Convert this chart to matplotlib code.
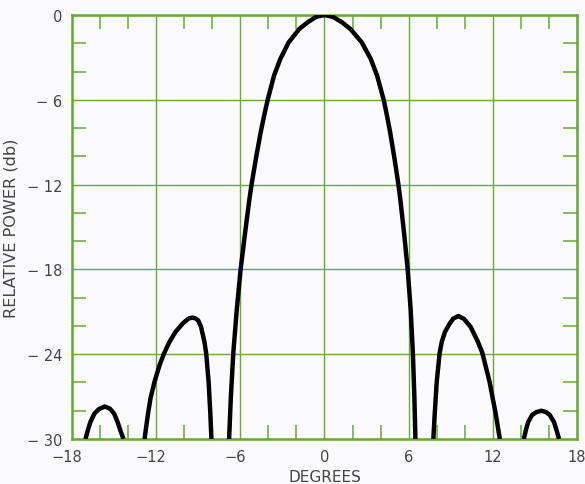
import matplotlib
matplotlib.use("Agg")
import matplotlib.pyplot as plt
import matplotlib.transforms as mtransforms
from matplotlib.ticker import MultipleLocator

# angle (degrees) and relative power (db), one list per lobe
main_deg = [-6.80, -6.68, -6.50, -6.25, -5.98, -5.66, -5.35, -5.20, -4.88, -4.55, -4.30,
            -4.05, -3.60, -3.15, -2.55, -1.80, -1.21, -0.60, 0.00, 0.60, 1.25, 1.85,
            2.65, 3.30, 3.75, 4.22, 4.45, 4.68, 4.98, 5.27, 5.40, 5.67, 5.93, 6.14,
            6.30, 6.41, 6.48]
main_db = [-30.0, -27.1, -23.9, -20.8, -18.0, -15.4, -13.0, -12.0, -10.1, -8.3, -7.1,
           -6.0, -4.29, -3.11, -1.93, -0.99, -0.52, -0.13, 0.0, -0.13, -0.52, -0.99,
           -1.93, -3.11, -4.29, -6.0, -7.1, -8.3, -10.1, -12.0, -13.0, -15.4, -18.0, -20.8,
           -23.9, -27.1, -30.0]

left1_deg = [-12.83, -12.58, -12.40, -12.12, -11.76, -11.42, -11.05, -10.62, -10.12, -9.70,
             -9.40, -9.20, -9.00, -8.80, -8.56, -8.44, -8.26, -8.14, -8.06]
left1_db = [-30.0, -28.19, -27.1, -25.96, -24.78, -23.9, -23.13, -22.42, -21.84, -21.48,
            -21.41, -21.47, -21.62, -22.07, -23.13, -23.9, -25.96, -28.19, -30.0]

right1_deg = [7.76, 7.86, 8.00, 8.21, 8.36, 8.59, 8.92, 9.18, 9.54, 9.94, 10.42, 10.94,
              11.25, 11.77, 12.20, 12.50]
right1_db = [-30.0, -28.19, -25.96, -23.9, -23.13, -22.42, -21.84, -21.48, -21.3, -21.5,
             -22.07, -23.13, -23.9, -25.96, -28.19, -30.0]

left2_deg = [-17.04, -16.85, -16.69, -16.40, -16.10, -15.67, -15.30, -15.00, -14.75, -14.55, -14.33]
left2_db = [-30.0, -29.3, -28.8, -28.2, -27.9, -27.7, -27.85, -28.2, -28.8, -29.4, -30.0]

right2_deg = [14.21, 14.35, 14.52, 14.80, 15.10, 15.46, 15.80, 16.06, 16.36, 16.55, 16.72]
right2_db = [-30.0, -29.4, -28.8, -28.3, -28.1, -28.0, -28.1, -28.3, -28.8, -29.4, -30.0]

xticks = [-18, -12, -6, 0, 6, 12, 18]
xlabels = ["\u221218", "\u221212", "\u22126", "0", "6", "12", "18"]
yticks = [0, -6, -12, -18, -24, -30]
ylabels = ["0", "\u2212 6", "\u2212 12", "\u2212 18", "\u2212 24", "\u2212 30"]

green = "#67aa36"
ink = "#444444"
bg = "#fbfafc"

fig = plt.figure(figsize=(5.85, 4.85), dpi=100, facecolor=bg)
ax = fig.add_axes([0.1231, 0.0928, 0.8632, 0.8742], facecolor=bg)

for d, p in [(main_deg, main_db), (left1_deg, left1_db), (right1_deg, right1_db),
             (left2_deg, left2_db), (right2_deg, right2_db)]:
    ax.plot(d, p, color="black", lw=3.2, solid_joinstyle="round", solid_capstyle="butt", zorder=3)

ax.set_xlim(-18, 18)
ax.set_ylim(-30, 0)
ax.set_xticks(xticks)
ax.set_xticklabels(xlabels, fontsize=10.5, color=ink)
ax.set_yticks(yticks)
ax.set_yticklabels(ylabels, fontsize=10.5, color=ink)
ax.xaxis.set_minor_locator(MultipleLocator(2))
ax.yaxis.set_minor_locator(MultipleLocator(2))
ax.tick_params(which="major", length=0, pad=7)
ax.tick_params(which="minor", direction="in", length=10, width=1.1, color=green,
               top=True, right=True, bottom=True, left=True)

# keep the digits centred on the tick, the minus sign hangs to the left
for lab in ax.get_xticklabels():
    if lab.get_text().startswith("\u2212"):
        lab.set_transform(lab.get_transform() + mtransforms.ScaledTranslation(-5 / 100, 0, fig.dpi_scale_trans))

ax.grid(True, which="major", color=green, lw=1.0)
for s in ax.spines.values():
    s.set_color(green)
    s.set_linewidth(1.8)

ax.set_xlabel("DEGREES", fontsize=11, color=ink, labelpad=4)
ax.set_ylabel("RELATIVE POWER (db)", fontsize=11.6, color=ink)
ax.yaxis.set_label_coords(-0.105, 0.5)

fig.savefig("out.png", dpi=100, facecolor=bg)
